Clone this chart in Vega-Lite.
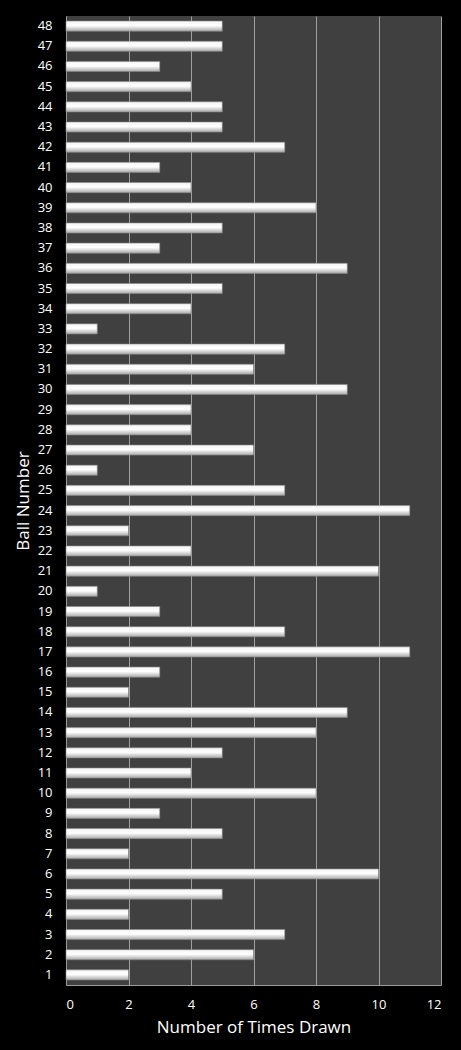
{
  "$schema": "https://vega.github.io/schema/vega-lite/v6.json",
  "description": "Number of times each ball was drawn.",
  "width": 375,
  "height": 969,
  "autosize": {"type": "none"},
  "padding": {"left": 66, "top": 16, "right": 20, "bottom": 65},
  "background": "#000000",
  "config": {
    "font": "Open Sans",
    "view": {"fill": "#404040", "stroke": null}
  },
  "data": {
    "values": [
      {"ball": 1, "times": 2}, {"ball": 2, "times": 6}, {"ball": 3, "times": 7},
      {"ball": 4, "times": 2}, {"ball": 5, "times": 5}, {"ball": 6, "times": 10},
      {"ball": 7, "times": 2}, {"ball": 8, "times": 5}, {"ball": 9, "times": 3},
      {"ball": 10, "times": 8}, {"ball": 11, "times": 4}, {"ball": 12, "times": 5},
      {"ball": 13, "times": 8}, {"ball": 14, "times": 9}, {"ball": 15, "times": 2},
      {"ball": 16, "times": 3}, {"ball": 17, "times": 11}, {"ball": 18, "times": 7},
      {"ball": 19, "times": 3}, {"ball": 20, "times": 1}, {"ball": 21, "times": 10},
      {"ball": 22, "times": 4}, {"ball": 23, "times": 2}, {"ball": 24, "times": 11},
      {"ball": 25, "times": 7}, {"ball": 26, "times": 1}, {"ball": 27, "times": 6},
      {"ball": 28, "times": 4}, {"ball": 29, "times": 4}, {"ball": 30, "times": 9},
      {"ball": 31, "times": 6}, {"ball": 32, "times": 7}, {"ball": 33, "times": 1},
      {"ball": 34, "times": 4}, {"ball": 35, "times": 5}, {"ball": 36, "times": 9},
      {"ball": 37, "times": 3}, {"ball": 38, "times": 5}, {"ball": 39, "times": 8},
      {"ball": 40, "times": 4}, {"ball": 41, "times": 3}, {"ball": 42, "times": 7},
      {"ball": 43, "times": 5}, {"ball": 44, "times": 5}, {"ball": 45, "times": 4},
      {"ball": 46, "times": 3}, {"ball": 47, "times": 5}, {"ball": 48, "times": 5}
    ]
  },
  "mark": {
    "type": "bar",
    "stroke": "#8a8a8a",
    "strokeWidth": 0.6,
    "fill": {
      "gradient": "linear",
      "x1": 0, "y1": 0, "x2": 0, "y2": 1,
      "stops": [
        {"offset": 0, "color": "#f4f4f4"},
        {"offset": 0.45, "color": "#ffffff"},
        {"offset": 1, "color": "#a8a8a8"}
      ]
    }
  },
  "encoding": {
    "y": {
      "field": "ball",
      "type": "ordinal",
      "sort": "descending",
      "scale": {"paddingInner": 0.5, "paddingOuter": 0.25},
      "axis": {
        "title": "Ball Number",
        "titleColor": "#ffffff",
        "titleFontSize": 17,
        "titleFontWeight": "normal",
        "titlePadding": 5,
        "labelColor": "#ffffff",
        "labelFontSize": 13,
        "labelPadding": 14,
        "ticks": false,
        "domainColor": "#9a9a9a"
      }
    },
    "x": {
      "field": "times",
      "type": "quantitative",
      "scale": {"domain": [0, 12]},
      "axis": {
        "title": "Number of Times Drawn",
        "titleColor": "#ffffff",
        "titleFontSize": 17,
        "titleFontWeight": "normal",
        "titlePadding": 8,
        "labelColor": "#ffffff",
        "labelFontSize": 13,
        "labelPadding": 13,
        "tickCount": 6,
        "ticks": false,
        "grid": true,
        "gridColor": "#a0a0a0",
        "gridWidth": 1,
        "domainColor": "#9a9a9a"
      }
    }
  }
}
